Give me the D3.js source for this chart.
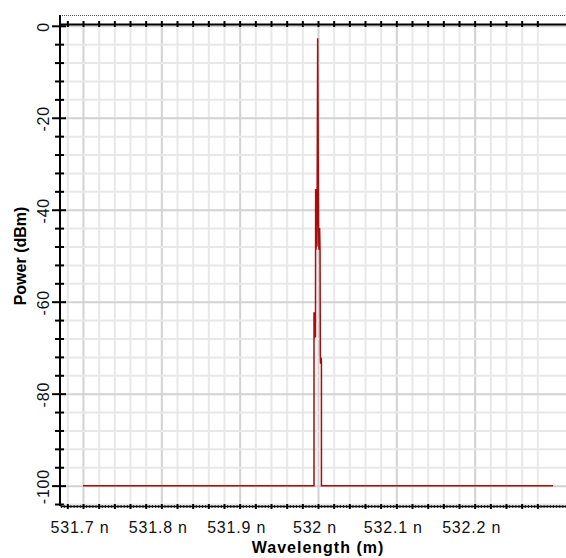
<!DOCTYPE html>
<html>
<head>
<meta charset="utf-8">
<script src="https://cdn.jsdelivr.net/npm/d3@7"></script>
<style>
  body { margin: 0; background: #fff; }
  svg { display: block; font-family: "Liberation Sans", Arial, sans-serif; }
</style>
</head>
<body>
<div id="chart"></div>
<script>
// 1: DATA
const wavelengths = [531.7, 531.9949, 531.9949, 531.9953, 531.9964, 531.9968, 531.9970, 531.9975,
    531.9982, 531.9987, 531.9996, 532.0007, 532.0012, 532.0021, 532.0026, 532.0030, 532.0033,
    532.0041, 532.0044, 532.0044, 532.3];
const powers = [-100, -100, -62.3, -68.0, -62.5, -67.8, -35.5, -48.7,
    -36.5, -48.0, -2.7, -43.0, -48.7, -44.0, -48.7, -72.0, -73.5,
    -72.2, -73.3, -100, -100];

const xTicks = [531.7, 531.8, 531.9, 532.0, 532.1, 532.2];
const xTickLabels = ["531.7 n", "531.8 n", "531.9 n", "532 n", "532.1 n", "532.2 n"];
const yTicks = [0, -20, -40, -60, -80, -100];
const yTickLabels = ["0", "-20", "-40", "-60", "-80", "-100"];

// 2: GLOBAL SIZES
const W = 566, H = 558;
const plot = { left: 60, right: 566, top: 24, bottom: 506 };

const svg = d3.select("#chart")
    .append("svg")
    .attr("width", W)
    .attr("height", H);

// 3: SCALES
const x = d3.scaleLinear()
    .domain([531.67064, 532.3166])
    .range([plot.left, plot.right]);

const y = d3.scaleLinear()
    .domain([-104.43, 0.39])
    .range([plot.bottom, plot.top]);

const minorX = d3.range(0, 31).map(i => +(531.68 + i * 0.02).toFixed(3));
const fineX = d3.range(0, 162).map(i => +(531.672 + i * 0.004).toFixed(4));
const minorY = d3.range(0, 27).map(i => -4 * i);

// 4: GRID
const grid = svg.append("g");
grid.append("g")
    .attr("transform", `translate(0,${plot.bottom})`)
    .call(d3.axisBottom(x).tickValues(minorX).tickSize(-(plot.bottom - plot.top)).tickFormat(""))
    .call(g => g.select(".domain").remove())
    .call(g => g.selectAll("line")
        .attr("stroke", d => xTicks.some(t => Math.abs(t - d) < 1e-6) ? "#d2d2d2" : "#e8e8e8")
        .attr("stroke-width", 2));

grid.append("g")
    .attr("transform", `translate(${plot.left},0)`)
    .call(d3.axisLeft(y).tickValues(minorY).tickSize(-(plot.right - plot.left)).tickFormat(""))
    .call(g => g.select(".domain").remove())
    .call(g => g.selectAll("line")
        .attr("stroke", d => d % 20 === 0 ? "#d2d2d2" : "#e8e8e8")
        .attr("stroke-width", 2));

// 5: SPECTRUM LINE
const spectrum = wavelengths.map((w, i) => ({ w, p: powers[i] }));
const line = d3.line()
    .x(d => x(d.w))
    .y(d => y(d.p));

svg.append("path")
    .datum(spectrum)
    .attr("fill", "none")
    .attr("stroke", "#a80c0c")
    .attr("stroke-width", 1.5)
    .attr("d", line);

// 6: AXES
// dotted frame line above the top axis
svg.append("line")
    .attr("x1", plot.left).attr("x2", plot.right)
    .attr("y1", 15.5).attr("y2", 15.5)
    .attr("stroke", "#555")
    .attr("stroke-dasharray", "1,1");

// top axis with ticks crossing the line
svg.append("g")
    .attr("transform", `translate(0,${plot.top})`)
    .call(d3.axisTop(x).tickValues(minorX).tickSize(3).tickSizeOuter(0).tickFormat(""))
    .call(g => g.select(".domain").attr("stroke", "#000").attr("stroke-width", 2))
    .call(g => g.selectAll(".tick line").attr("y1", 3).attr("stroke-width", 2));

// bottom axis: fine ticks, then labelled ticks
svg.append("g")
    .attr("transform", `translate(0,${plot.bottom})`)
    .call(d3.axisBottom(x).tickValues(fineX).tickSize(2).tickSizeOuter(0).tickFormat(""))
    .call(g => g.select(".domain").attr("stroke", "#000").attr("stroke-width", 1.5))
    .call(g => g.selectAll(".tick line").attr("y1", -1).attr("stroke", "#222"));

svg.append("g")
    .attr("transform", `translate(0,${plot.bottom})`)
    .call(d3.axisBottom(x).tickValues(minorX).tickSize(3).tickSizeOuter(0).tickFormat(""))
    .call(g => g.select(".domain").remove())
    .call(g => g.selectAll(".tick line").attr("y1", -2).attr("stroke-width", 2));

svg.append("g")
    .selectAll("text")
    .data(xTicks)
    .join("text")
    .attr("x", d => x(d) - 3)
    .attr("y", 533)
    .attr("text-anchor", "middle")
    .attr("font-size", 16)
    .attr("letter-spacing", 0.8)
    .attr("fill", "#111")
    .text((d, i) => xTickLabels[i]);

// left axis
svg.append("line")
    .attr("x1", plot.left).attr("x2", plot.left)
    .attr("y1", 15).attr("y2", plot.bottom)
    .attr("stroke", "#000")
    .attr("stroke-width", 2);

svg.append("g")
    .attr("transform", `translate(${plot.left},0)`)
    .call(d3.axisLeft(y).tickValues(minorY).tickSize(5).tickSizeOuter(0).tickFormat(""))
    .call(g => g.select(".domain").remove())
    .call(g => g.selectAll(".tick line")
        .attr("x1", d => d % 20 === 0 ? 6 : 4)
        .attr("x2", d => d % 20 === 0 ? -8 : -5)
        .attr("stroke-width", 2));

svg.append("g")
    .selectAll("text")
    .data(yTicks)
    .join("text")
    .attr("transform", d => `translate(49,${y(d) + 1}) rotate(-90)`)
    .attr("text-anchor", "middle")
    .attr("font-size", 16)
    .attr("letter-spacing", 0.8)
    .attr("fill", "#111")
    .text((d, i) => yTickLabels[i]);

// 7: AXIS TITLES
svg.append("text")
    .attr("x", 318)
    .attr("y", 553)
    .attr("text-anchor", "middle")
    .attr("font-size", 16)
    .attr("font-weight", "bold")
    .attr("letter-spacing", 1)
    .text("Wavelength (m)");

svg.append("text")
    .attr("transform", "translate(26,256) rotate(-90)")
    .attr("text-anchor", "middle")
    .attr("font-size", 16)
    .attr("font-weight", "bold")
    .text("Power (dBm)");
</script>
</body>
</html>
